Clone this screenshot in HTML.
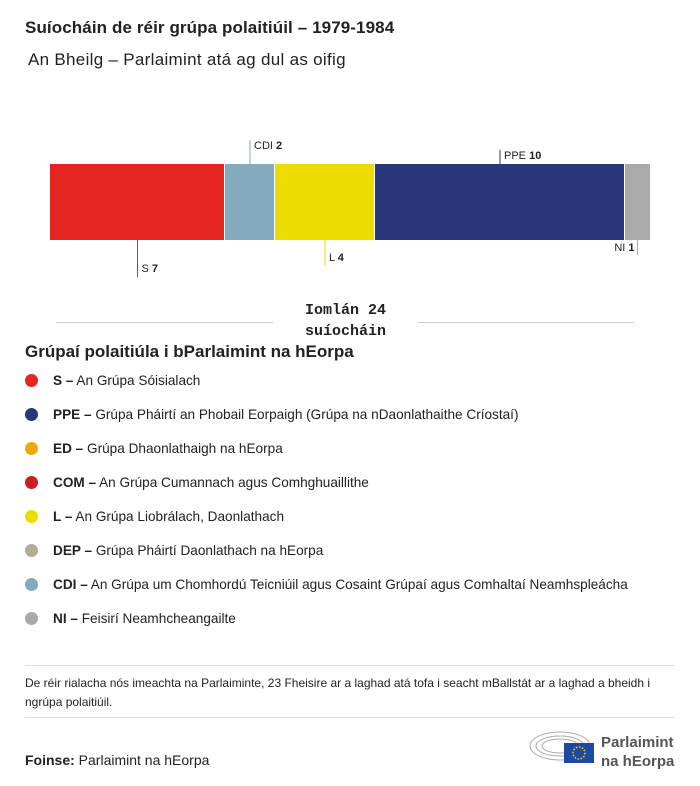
<!DOCTYPE html>
<html><head><meta charset="utf-8"><style>
body{margin:0;width:700px;height:786px;background:#fff;font-family:"Liberation Sans",sans-serif;color:#222;position:relative;overflow:hidden}
.a{position:absolute}
.leg{position:absolute;left:25px;font-size:13.6px;height:20px;line-height:20px;white-space:nowrap}
.dot{display:inline-block;width:13px;height:13px;border-radius:50%;vertical-align:-2px;margin-right:15px}
</style></head><body>
<div class="a" style="left:25px;top:18px;font-size:17px;font-weight:bold;letter-spacing:0.1px">Suíocháin de réir grúpa polaitiúil – 1979-1984</div>
<div class="a" style="left:28px;top:50px;font-size:17px;letter-spacing:0.3px">An Bheilg – Parlaimint atá ag dul as oifig</div>
<svg class="a" id="chart" style="left:0;top:0" width="700" height="300"></svg>
<div class="a" style="left:56px;top:322px;width:217px;height:1px;background:#ccc"></div>
<div class="a" style="left:418px;top:322px;width:216px;height:1px;background:#ccc"></div>
<div class="a" style="left:273px;top:300px;width:145px;text-align:center;font-family:'Liberation Mono',monospace;font-weight:bold;font-size:15px;line-height:21px">Iomlán 24<br>suíocháin</div>
<div class="a" style="left:25px;top:342px;font-size:17px;font-weight:bold">Grúpaí polaitiúla i bParlaimint na hEorpa</div>
<div id="legend"></div>
<div class="a" style="left:25px;top:665px;width:650px;height:1px;background:#ddd"></div>
<div class="a" style="left:25px;top:674px;width:640px;font-size:12px;line-height:19px">De réir rialacha nós imeachta na Parlaiminte, 23 Fheisire ar a laghad atá tofa i seacht mBallstát ar a laghad a bheidh i ngrúpa polaitiúil.</div>
<div class="a" style="left:25px;top:717px;width:650px;height:1px;background:#ddd"></div>
<div class="a" style="left:25px;top:752px;font-size:14px"><b>Foinse:</b> Parlaimint na hEorpa</div>
<svg class="a" style="left:528px;top:728px" width="70" height="38">
<g fill="none" stroke="#aaa" stroke-width="1"><ellipse cx="32" cy="18" rx="30" ry="14"/><ellipse cx="32" cy="18" rx="24" ry="10"/><ellipse cx="32" cy="18" rx="18" ry="7"/></g>
<rect x="36" y="15" width="30" height="20" fill="#1d4aa0"/><circle cx="51" cy="25" r="6" fill="none" stroke="#fc0" stroke-width="1.5" stroke-dasharray="1.5 1.6"/></svg>
<div class="a" style="left:601px;top:733px;font-size:15px;font-weight:bold;color:#555;line-height:19px">Parlaimint<br>na hEorpa</div>
<script>
const groups=["S","CDI","L","PPE","NI"];
const seats=[7,2,4,10,1];
const colors=["#e52521","#85a9bf","#ecdc00","#283779","#aaaaa9"];
const legendCodes=["S","PPE","ED","COM","L","DEP","CDI","NI"];
const legendNames=["An Grúpa Sóisialach","Grúpa Pháirtí an Phobail Eorpaigh (Grúpa na nDaonlathaithe Críostaí)","Grúpa Dhaonlathaigh na hEorpa","An Grúpa Cumannach agus Comhghuaillithe","An Grúpa Liobrálach, Daonlathach","Grúpa Pháirtí Daonlathach na hEorpa","An Grúpa um Chomhordú Teicniúil agus Cosaint Grúpaí agus Comhaltaí Neamhspleácha","Feisirí Neamhcheangailte"];
const legendColors=["#e52521","#283779","#f0a800","#c8201f","#ecdc00","#b5ab9c","#85a9bf","#aaaaa9"];
const NS="http://www.w3.org/2000/svg";
const svg=document.getElementById('chart');
const total=seats.reduce((a,b)=>a+b,0);
const x0=50,W=600,y0=164,H=76;
const xs=v=>x0+v/total*W;
const place=[["b",37],["a",24],["b",26],["a",14],["b",15]];
let cum=0;
groups.forEach((g,i)=>{
  const r=document.createElementNS(NS,'rect');
  
  
  const a=xs(cum),b=xs(cum+seats[i]);
  r.setAttribute('x',a);r.setAttribute('y',y0);r.setAttribute('width',b-a-(i<groups.length-1?1:0));r.setAttribute('height',H);r.setAttribute('fill',colors[i]);
  svg.appendChild(r);
  const mx=(a+b)/2,[pos,len]=place[i];
  const l=document.createElementNS(NS,'line');
  
  
  const ya=pos==="a"?y0:y0+H, yb=pos==="a"?y0-len:y0+H+len;
  l.setAttribute('x1',mx);l.setAttribute('x2',mx);l.setAttribute('y1',ya);l.setAttribute('y2',yb);l.setAttribute('stroke',colors[i]);
  svg.appendChild(l);
  const t=document.createElementNS(NS,'text');
  
  
  const last=i===groups.length-1;
  t.setAttribute('x',last?mx-3:mx+4);
  t.setAttribute('text-anchor',last?'end':'start');
  t.setAttribute('y',pos==="a"?yb+9:(last?yb-4:yb-5));
  t.setAttribute('font-size','11');t.setAttribute('fill','#222');
  t.innerHTML=g+' <tspan font-weight="bold">'+seats[i]+'</tspan>';
  svg.appendChild(t);
  cum+=seats[i];
});
const lg=document.getElementById('legend');
legendCodes.forEach((c,i)=>{
  const d=document.createElement('div');
  d.className='leg';
  
  
  d.style.top=(371+i*34)+'px';
  d.innerHTML='<span class="dot" style="background:'+legendColors[i]+'"></span><b>'+c+' –</b> '+legendNames[i];
  lg.appendChild(d);
});
</script>
</body></html>
